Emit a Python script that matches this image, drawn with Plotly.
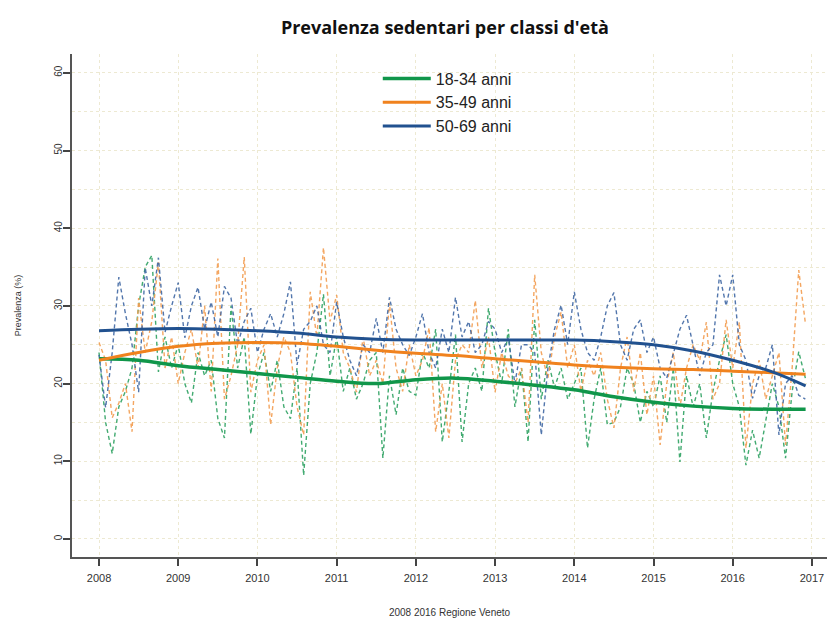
import plotly.graph_objects as go

# mesi: 2008-01 .. 2016-12
mesi = [2008 + i / 12 for i in range(108)]

eta_18_34 = [24, 15, 11, 17, 19, 22, 30, 35, 36.5, 21.5, 26, 22,
             25, 20, 17.5, 24, 21, 23, 15.5, 13, 30, 22, 26, 13.5,
             21, 24, 19, 23, 17, 15.5, 22, 8.2, 20, 24, 31.5, 21,
             26, 19, 22, 18, 20, 23, 24, 10.4, 21, 16, 22, 19,
             18.5, 24, 22, 27, 12.5, 19, 26.3, 12.5, 20, 22, 19, 29.7,
             24, 20, 27, 17, 22, 12.5, 28.2, 18, 23, 19.5, 22, 18,
             20, 22, 11.7, 18, 22, 14.7, 15, 17, 22, 20, 15, 19,
             17, 21, 15, 22, 9.9, 21, 17, 20, 13, 19, 23, 26.3,
             20, 17, 9.5, 14, 10.4, 15, 20, 17, 10.4, 19, 24.1, 20.7]

eta_35_49 = [25.3, 23, 15.6, 17.5, 20, 13.8, 31, 24, 28, 35.6, 22, 26,
             20, 24, 27, 22, 30, 19, 36.1, 18, 21, 25, 36.3, 18.9,
             23, 25, 14.7, 22, 26, 24, 17, 13.4, 31.8, 26, 37.5, 28,
             31.4, 24, 22, 18.9, 26, 21, 23, 20, 30.4, 22, 19, 25,
             21, 23, 27.2, 13.8, 20, 13, 23, 25, 24, 30.7, 22, 26,
             18.9, 24, 21, 20, 22, 15, 34, 24, 20.7, 26, 29.2, 22,
             25, 19, 23, 21, 24, 18, 14.3, 22, 26, 19, 24, 16,
             21, 12.1, 20, 24, 17, 22, 25, 23, 27.9, 18, 20, 28.2,
             22, 27.9, 11.7, 20, 23, 18, 21, 24, 12.1, 22, 34.6, 27.8]

eta_50_69 = [23.7, 16.9, 24, 33.7, 29, 25, 18.9, 34.9, 30, 36.2, 26.6, 30,
             33, 25.9, 30, 32.4, 27, 30.5, 26, 32.5, 31, 25, 28, 29.7,
             24, 27, 29, 26, 29, 33.1, 22.4, 27, 28, 30, 25, 24,
             30.5, 26, 23, 21, 25, 24, 28.4, 24, 31.1, 27, 25, 23.6,
             26, 29, 24, 22, 27, 24, 31.1, 26, 28, 24, 25, 28,
             27, 24, 25.9, 20, 25, 25, 24, 13.4, 22, 27, 30.1, 25,
             31.8, 27, 24, 23, 26, 30, 31.7, 25, 23, 27, 28.2, 24,
             26, 22, 20.7, 24, 27, 28.8, 25, 21, 24, 25, 34, 30,
             34, 25, 23, 18.1, 21, 22, 25, 13.4, 20, 21, 18.5, 18]

# curve di tendenza (lisciate)
anni_trend = [2008, 2008.5, 2009, 2009.5, 2010, 2010.5, 2011, 2011.5, 2012, 2012.5,
              2013, 2013.5, 2014, 2014.5, 2015, 2015.5, 2016, 2016.5, 2016.92]
trend_18_34 = [23.2, 23.0, 22.3, 21.8, 21.3, 20.8, 20.3, 20.0, 20.5, 20.7,
               20.3, 19.8, 19.2, 18.3, 17.6, 17.1, 16.8, 16.7, 16.7]
trend_35_49 = [23.0, 24.0, 24.8, 25.2, 25.3, 25.2, 24.8, 24.3, 23.9, 23.6,
               23.2, 22.8, 22.4, 22.1, 21.9, 21.8, 21.6, 21.4, 21.2]
trend_50_69 = [26.8, 27.0, 27.1, 27.0, 26.8, 26.5, 26.0, 25.7, 25.6, 25.6,
               25.6, 25.6, 25.6, 25.4, 25.0, 24.2, 23.0, 21.5, 19.7]

gruppi = ["18-34 anni", "35-49 anni", "50-69 anni"]
colori = ["#10964a", "#f0821e", "#21518f"]
colori_chiari = ["#2ea262", "#f39d50", "#4068a4"]

fig = go.Figure()
for serie, c in zip([eta_18_34, eta_35_49, eta_50_69], colori_chiari):
    fig.add_trace(go.Scatter(x=mesi, y=serie, mode="lines", showlegend=False,
                             line=dict(color=c, width=1.4, dash="4px,3px"), opacity=0.9))
for nome, trend, c, w in zip(gruppi, [trend_18_34, trend_35_49, trend_50_69], colori, [3.5, 3, 3]):
    fig.add_trace(go.Scatter(x=anni_trend, y=trend, mode="lines", name=nome,
                             line=dict(color=c, width=w, shape="spline")))

fig.update_layout(
    width=827, height=621,
    paper_bgcolor="white", plot_bgcolor="white",
    margin=dict(l=72, r=0, t=54, b=64, autoexpand=False),
    title=dict(text="<b>Prevalenza sedentari per classi d'età</b>", x=0.538, xanchor="center",
               y=0.955, yanchor="middle",
               font=dict(family="Open Sans", size=18, color="#111")),
    legend=dict(x=0.405, y=0.985, xanchor="left", yanchor="top", bgcolor="rgba(0,0,0,0)",
                font=dict(family="Liberation Sans", size=16, color="#222"),
                tracegroupgap=0, itemwidth=48),
    xaxis=dict(range=[2007.659, 2017.19], tickmode="linear", tick0=2008, dtick=1,
               automargin=False,
               showgrid=True, gridcolor="#ede9d2", griddash="dot", gridwidth=1,
               showline=True, linecolor="#555", linewidth=2,
               ticks="outside", ticklen=7, tickcolor="#444", tickwidth=1.5,
               ticklabelstandoff=3,
               tickfont=dict(family="Liberation Sans Narrow, Liberation Sans", size=11, color="#333"),
               title=dict(text="2008 2016 Regione Veneto", standoff=26,
                          font=dict(family="Liberation Sans", size=10, color="#333")),
               zeroline=False),
    yaxis=dict(range=[-2.32, 62.42], tickmode="linear", tick0=0, dtick=10,
               automargin=False,
               showgrid=True, gridcolor="#ede9d2", griddash="dot", gridwidth=1,
               minor=dict(dtick=5, showgrid=True, gridcolor="#ede9d2", griddash="dot"),
               showline=True, linecolor="#555", linewidth=2,
               ticks="outside", ticklen=7, tickcolor="#444", tickwidth=1.5,
               tickangle=-90, ticklabelstandoff=-3,
               tickfont=dict(family="Liberation Sans", size=10, color="#333"),
               title=dict(text="Prevalenza (%)", standoff=30,
                          font=dict(family="Liberation Sans", size=9, color="#333")),
               zeroline=False),
)

# niente margine del body, così la figura occupa esattamente la finestra
fig.write_html("out.html", config={"displayModeBar": False},
               post_script="document.body.style.margin='0';")
